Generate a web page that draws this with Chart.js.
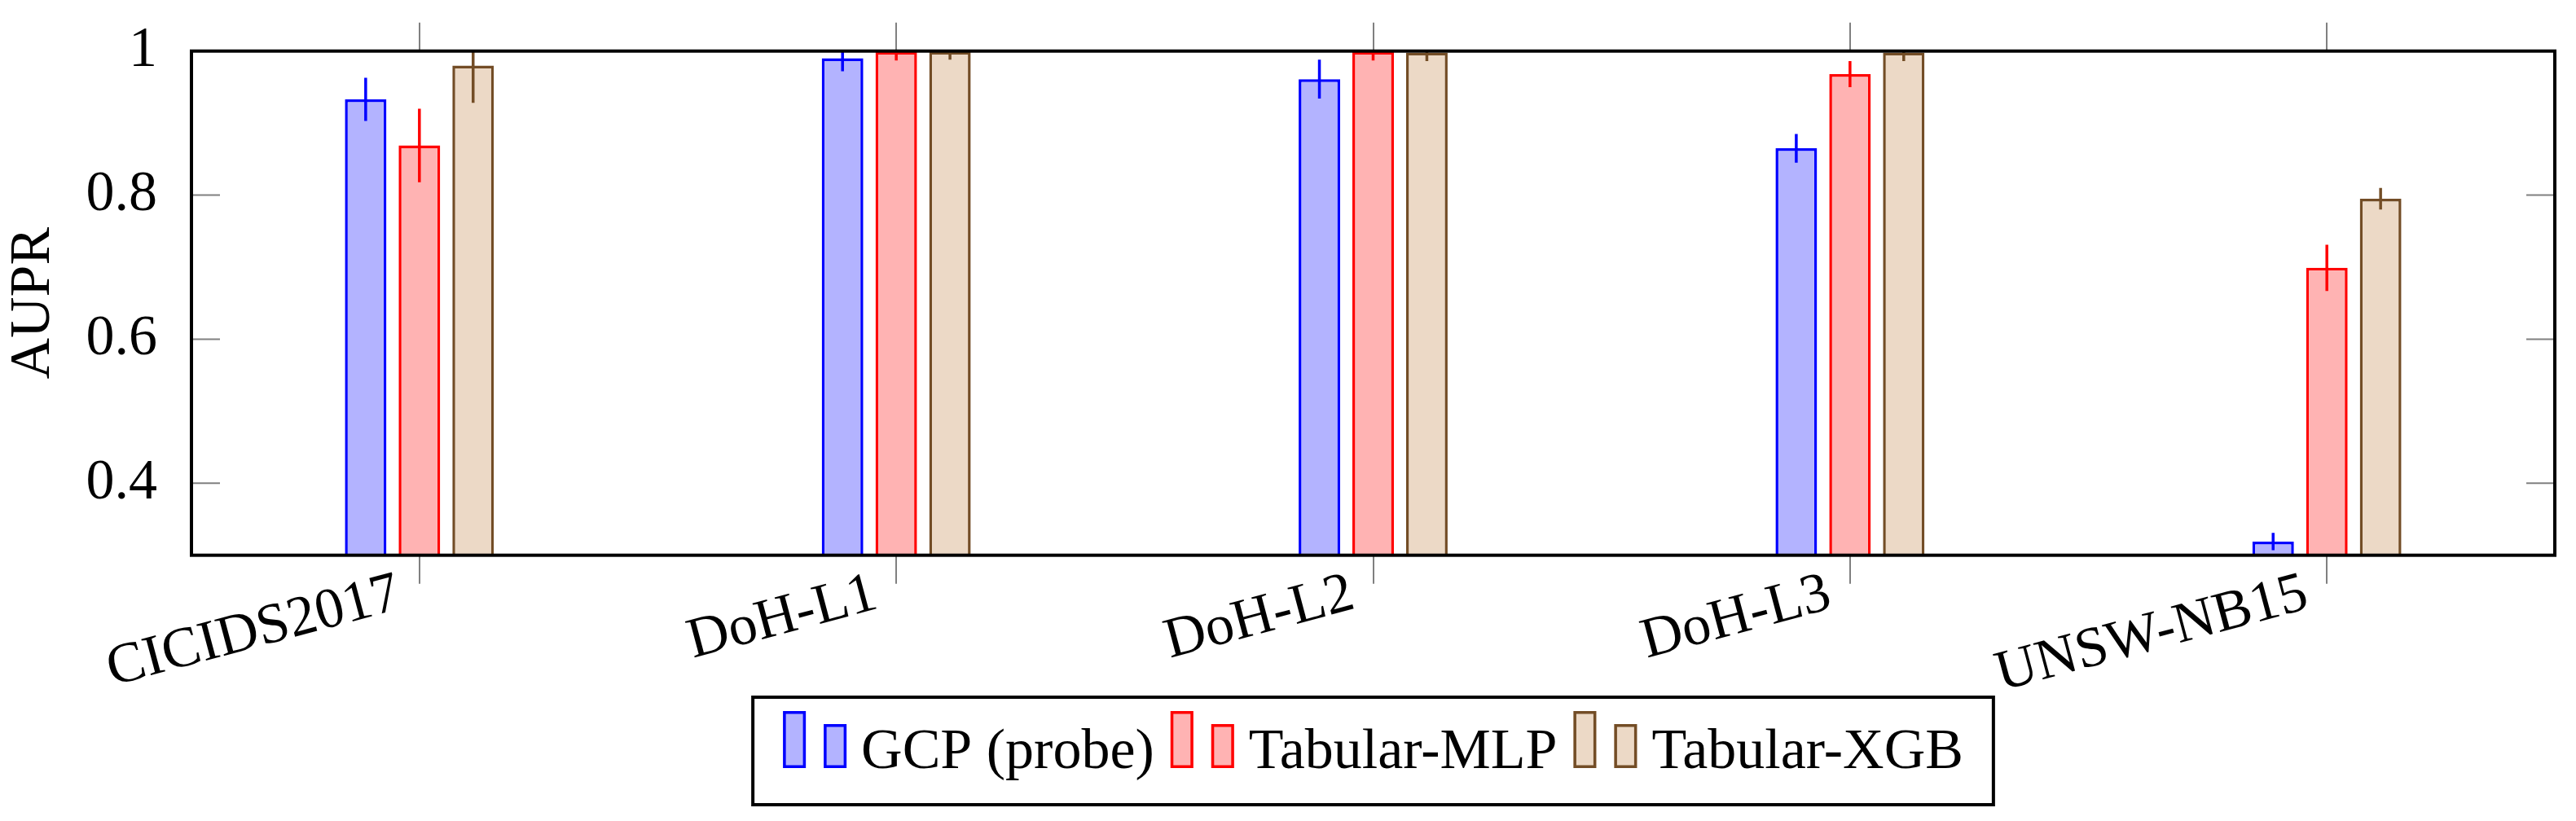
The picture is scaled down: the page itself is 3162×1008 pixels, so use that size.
<!DOCTYPE html>
<html>
<head>
<meta charset="utf-8">
<script src="https://cdn.jsdelivr.net/npm/chart.js@4.4.1/dist/chart.umd.min.js"></script>
<style>
  html, body { margin: 0; padding: 0; background: #fff; }
  #wrap { width: 3162px; height: 1008px; }
</style>
</head>
<body>
<div id="wrap"><canvas id="chart"></canvas></div>
<script>
// categories and series
const categories = ['CICIDS2017', 'DoH-L1', 'DoH-L2', 'DoH-L3', 'UNSW-NB15'];
const seriesNames = ['GCP (probe)', 'Tabular-MLP', 'Tabular-XGB'];

// mean AUPR and error (half length of the bar) per category
const gcpMean = [0.933, 0.990, 0.961, 0.865, 0.319];
const gcpErr  = [0.030, 0.018, 0.027, 0.020, 0.012];
const mlpMean = [0.869, 0.999, 0.999, 0.968, 0.699];
const mlpErr  = [0.051, 0.012, 0.012, 0.018, 0.032];
const xgbMean = [0.980, 0.999, 0.998, 0.998, 0.795];
const xgbErr  = [0.052, 0.011, 0.012, 0.012, 0.015];

const yTicks = [0.4, 0.6, 0.8, 1];

const borderColors = ['#0000ff', '#ff0000', '#734d26'];
const fillColors = ['#b3b3ff', '#ffb3b3', '#ecd9c6'];
const FONT = '"Liberation Serif", "DejaVu Serif", serif';
const FONT_SIZE = 70;
const tickGray = '#808080';

function makeSet(i, means, errs) {
  return {
    label: seriesNames[i],
    data: means.map((v, k) => ({ x: k, y: v })),
    errors: errs,
    backgroundColor: fillColors[i],
    borderColor: borderColors[i],
    borderWidth: 3.5,
    borderSkipped: false,
    categoryPercentage: 0.338,
    barPercentage: 0.773
  };
}

const catTicks = scale => { scale.ticks = categories.map((c, i) => ({ value: i })); };

const overlay = {
  id: 'overlay',
  afterDatasetsDraw(chart) {
    const { ctx, chartArea: a, scales: { y } } = chart;
    // error bars
    ctx.save();
    ctx.beginPath();
    ctx.rect(a.left, a.top, a.right - a.left, a.bottom - a.top);
    ctx.clip();
    chart.data.datasets.forEach((ds, di) => {
      chart.getDatasetMeta(di).data.forEach((bar, i) => {
        const v = ds.data[i].y, e = ds.errors[i];
        ctx.beginPath();
        ctx.moveTo(bar.x, y.getPixelForValue(v + e));
        ctx.lineTo(bar.x, y.getPixelForValue(v - e));
        ctx.strokeStyle = ds.borderColor;
        ctx.lineWidth = 3.5;
        ctx.stroke();
      });
    });
    ctx.restore();
    // inner y ticks on both sides
    ctx.save();
    ctx.strokeStyle = tickGray;
    ctx.lineWidth = 2;
    yTicks.forEach(t => {
      const py = y.getPixelForValue(t);
      ctx.beginPath();
      ctx.moveTo(a.left, py); ctx.lineTo(a.left + 35, py);
      ctx.moveTo(a.right, py); ctx.lineTo(a.right - 35, py);
      ctx.stroke();
    });
    // frame
    ctx.strokeStyle = '#000';
    ctx.lineWidth = 4;
    ctx.strokeRect(a.left, a.top, a.right - a.left, a.bottom - a.top);
    ctx.restore();
  },
  afterDraw(chart) {
    const { ctx, chartArea: a } = chart;
    ctx.save();
    ctx.font = FONT_SIZE + 'px ' + FONT;
    const sets = chart.data.datasets;
    const barW = 28, gapBars = 22, gapText = 18, gapItem = 20;
    const widths = sets.map(ds => ctx.measureText(ds.label).width);
    const contentW = widths.reduce((s, w) => s + 2 * barW + gapBars + gapText + w, 0) + gapItem * (sets.length - 1);
    const boxW = contentW + 74, boxTop = 856, boxH = 132;
    const cx = (a.left + a.right) / 2;
    ctx.fillStyle = '#fff';
    ctx.fillRect(cx - boxW / 2, boxTop, boxW, boxH);
    ctx.strokeStyle = '#000';
    ctx.lineWidth = 4;
    ctx.strokeRect(cx - boxW / 2, boxTop, boxW, boxH);
    let x = cx - contentW / 2;
    const base = 943;
    sets.forEach((ds, i) => {
      [[x, 70], [x + barW + gapBars, 54]].forEach(([bx, h]) => {
        ctx.fillStyle = ds.backgroundColor;
        ctx.fillRect(bx, base - h, barW, h);
        ctx.strokeStyle = ds.borderColor;
        ctx.lineWidth = 3.5;
        ctx.strokeRect(bx + 1.75, base - h + 1.75, barW - 3.5, h - 3.5);
      });
      x += 2 * barW + gapBars + gapText;
      ctx.fillStyle = '#000';
      ctx.textBaseline = 'alphabetic';
      ctx.fillText(ds.label, x, base);
      x += widths[i] + gapItem;
    });
    ctx.restore();
  }
};

new Chart(document.getElementById('chart'), {
  type: 'bar',
  data: {
    datasets: [
      makeSet(0, gcpMean, gcpErr),
      makeSet(1, mlpMean, mlpErr),
      makeSet(2, xgbMean, xgbErr)
    ]
  },
  options: {
    responsive: true,
    maintainAspectRatio: false,
    animation: false,
    devicePixelRatio: 1,
    layout: { padding: { top: 27.7, right: 26, left: 0, bottom: 0 } },
    plugins: { legend: { display: false }, tooltip: { enabled: false } },
    scales: {
      x: {
        type: 'linear',
        position: 'bottom',
        min: -0.478,
        max: 4.478,
        bounds: 'data',
        offset: false,
        afterBuildTicks: catTicks,
        afterFit: s => { s.height = 326.3; },
        grid: { offset: false, drawOnChartArea: false, tickLength: 35, color: tickGray, lineWidth: 2 },
        border: { display: false },
        ticks: {
          autoSkip: false,
          minRotation: 15,
          maxRotation: 15,
          padding: -22,
          labelOffset: -25,
          color: '#000',
          font: { family: FONT, size: FONT_SIZE, lineHeight: 1 },
          callback: v => categories[v] ?? ''
        }
      },
      x2: {
        type: 'linear',
        position: 'top',
        min: -0.478,
        max: 4.478,
        bounds: 'data',
        offset: false,
        afterBuildTicks: catTicks,
        afterFit: s => { s.height = 35; },
        grid: { offset: false, drawOnChartArea: false, tickLength: 35, color: tickGray, lineWidth: 2 },
        border: { display: false },
        ticks: { display: false }
      },
      y: {
        min: 0.3,
        max: 1,
        bounds: 'data',
        afterBuildTicks: s => { s.ticks = yTicks.map(v => ({ value: v })); },
        afterFit: s => { s.width = 235; },
        grid: { display: false },
        border: { display: false },
        ticks: {
          padding: 34,
          color: '#000',
          font: { family: FONT, size: FONT_SIZE, lineHeight: 0.8 },
          callback: v => String(Number(v.toFixed(1)))
        },
        title: {
          display: true,
          text: 'AUPR',
          color: '#000',
          padding: 0,
          font: { family: FONT, size: FONT_SIZE }
        }
      }
    }
  },
  plugins: [overlay]
});
</script>
</body>
</html>
